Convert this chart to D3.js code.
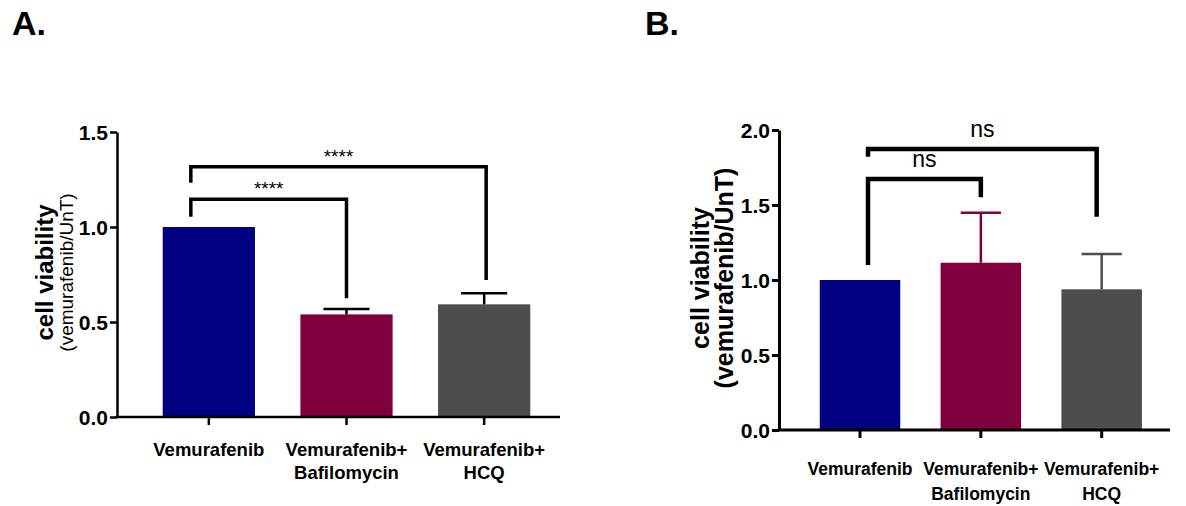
<!DOCTYPE html>
<html>
<head>
<meta charset="utf-8">
<script src="https://cdn.jsdelivr.net/npm/d3@7"></script>
<style>
  body { margin: 0; background: #fff; }
  text { font-family: "Liberation Sans", Arial, sans-serif; }
</style>
</head>
<body>
<div id="myDiv"></div>
<script>
// categories and labels
var categories = ["Vemurafenib", "Vemurafenib+Bafilomycin", "Vemurafenib+HCQ"];
var catLines = [["Vemurafenib"], ["Vemurafenib+", "Bafilomycin"], ["Vemurafenib+", "HCQ"]];
var barColors = ["#000080", "#7f003c", "#4d4d4d"];

// panel A values
var meanA = [1.0, 0.54, 0.593];
var errA = [0, 0.028, 0.058];
var ticksA = [0, 0.5, 1.0, 1.5];
// brackets: from bar a to bar b, bar height y, left end ya, right end yb
var sigA = [
  {a: 0, b: 1, y: 1.146, ya: 1.054, yb: 0.625, label: "****"},
  {a: 0, b: 2, y: 1.317, ya: 1.233, yb: 0.721, label: "****"}
];

// panel B values
var meanB = [1.0, 1.115, 0.938];
var errB = [0, 0.334, 0.235];
var ticksB = [0, 0.5, 1.0, 1.5, 2.0];
var sigB = [
  {a: 0, b: 1, y: 1.673, ya: 1.10, yb: 1.551, label: "ns"},
  {a: 0, b: 2, y: 1.873, ya: 1.822, yb: 1.422, label: "ns"}
];

var w = 1186;
var h = 506;

var svg = d3.select("#myDiv")
    .append("svg")
    .attr("width", w)
    .attr("height", h);

// panel letters
svg.append("text").attr("x", 12).attr("y", 35)
  .attr("font-size", 34).attr("font-weight", "bold").text("A.");
svg.append("text").attr("x", 645).attr("y", 35)
  .attr("font-size", 34).attr("font-weight", "bold").text("B.");

function drawPanel(p) {
  var x = d3.scaleBand()
    .domain(categories)
    .range(p.xRange)
    .paddingInner(p.pad)
    .paddingOuter(p.pad / 2);

  var y = d3.scaleLinear()
    .domain(p.yDomain)
    .range(p.yRange);

  var g = svg.append("g");
  var bw = x.bandwidth();

  // bars
  g.selectAll("rect.bar")
   .data(p.means)
   .enter()
   .append("rect")
   .attr("class", "bar")
   .attr("x", function(d, i) { return x(categories[i]); })
   .attr("y", function(d) { return y(d); })
   .attr("width", bw)
   .attr("height", function(d) { return y(0) - y(d); })
   .attr("fill", function(d, i) { return barColors[i]; });

  // error bars (upper only)
  p.means.forEach(function(m, i) {
    if (p.errs[i] <= 0) return;
    var cx = x(categories[i]) + bw / 2;
    var col = p.errColored ? barColors[i] : "#000";
    g.append("line")
      .attr("x1", cx).attr("x2", cx)
      .attr("y1", y(m)).attr("y2", y(m + p.errs[i]))
      .attr("stroke", col).attr("stroke-width", p.errWidth);
    g.append("line")
      .attr("x1", cx - bw / 4).attr("x2", cx + bw / 4)
      .attr("y1", y(m + p.errs[i])).attr("y2", y(m + p.errs[i]))
      .attr("stroke", col).attr("stroke-width", p.errWidth);
  });

  // y axis
  var yAxis = d3.axisLeft(y)
    .tickValues(p.ticks)
    .tickFormat(d3.format(".1f"))
    .tickSize(7)
    .tickSizeOuter(0)
    .tickPadding(2);
  var ya = g.append("g")
    .attr("transform", "translate(" + p.axisX + ",0)")
    .call(yAxis);
  ya.select(".domain").attr("stroke-width", p.axisWidth);
  ya.selectAll(".tick line").attr("stroke-width", p.axisWidth);
  ya.selectAll(".tick text")
    .attr("font-size", p.tickFont)
    .attr("font-weight", "bold")
    .attr("fill", "#000")
    .attr("dy", "0.34em")
    .style("font-family", "'Liberation Sans', Arial, sans-serif");

  // x axis
  var xAxis = d3.axisBottom(x).tickSize(8).tickFormat("");
  var xa = g.append("g")
    .attr("transform", "translate(0," + y(0) + ")")
    .call(xAxis);
  xa.select(".domain").remove();
  xa.selectAll(".tick line").attr("stroke-width", p.axisWidth);
  g.append("line")
    .attr("x1", p.axisX - p.axisWidth / 2).attr("x2", p.xAxisEnd)
    .attr("y1", y(0)).attr("y2", y(0))
    .attr("stroke", "#000").attr("stroke-width", p.axisWidth);

  // category labels
  catLines.forEach(function(lines, i) {
    var t = g.append("text")
      .attr("x", x(categories[i]) + bw / 2)
      .attr("y", y(0) + p.labelDrop)
      .attr("text-anchor", "middle")
      .attr("font-size", p.catFont)
      .attr("font-weight", "bold");
    lines.forEach(function(s, j) {
      t.append("tspan")
        .attr("x", x(categories[i]) + bw / 2)
        .attr("dy", j === 0 ? 0 : p.lineGap)
        .text(s);
    });
  });

  // y label
  var ly = (p.yRange[0] + p.yRange[1]) / 2 + p.titleDy;
  g.append("text")
    .attr("transform", "translate(" + p.titleX[0] + "," + ly + ") rotate(-90)")
    .attr("text-anchor", "middle")
    .attr("font-size", p.titleFont[0])
    .attr("font-weight", "bold")
    .text("cell viability");
  g.append("text")
    .attr("transform", "translate(" + p.titleX[1] + "," + ly + ") rotate(-90)")
    .attr("text-anchor", "middle")
    .attr("font-size", p.titleFont[1])
    .attr("font-weight", p.subBold ? "bold" : "normal")
    .text("(vemurafenib/UnT)");

  // significance brackets
  p.sig.forEach(function(s) {
    var xa0 = x(categories[s.a]) + bw / 2 + p.leftShift;
    var xb0 = x(categories[s.b]) + bw / 2 + (s.b === 2 ? p.rightShift : 0);
    g.append("path")
      .attr("d", "M" + xa0 + "," + y(s.ya) + "V" + y(s.y) + "H" + xb0 + "V" + y(s.yb))
      .attr("fill", "none")
      .attr("stroke", "#000")
      .attr("stroke-width", p.bracketWidth);
    g.append("text")
      .attr("x", (xa0 + xb0) / 2)
      .attr("y", y(s.y) - p.sigGap)
      .attr("text-anchor", "middle")
      .attr("font-size", p.sigFont)
      .text(s.label);
  });
}

drawPanel({
  means: meanA, errs: errA, ticks: ticksA, sig: sigA,
  xRange: [140, 553], pad: 0.33,
  yDomain: [0, 1.5], yRange: [417, 132],
  axisX: 117, xAxisEnd: 560, axisWidth: 2.5,
  tickFont: 21, catFont: 18.5, labelDrop: 39, lineGap: 23,
  titleX: [53, 73], titleFont: [24, 19], subBold: false, titleDy: -2,
  errColored: false, errWidth: 2.5,
  leftShift: -18, rightShift: 2, bracketWidth: 3.5,
  sigFont: 19, sigGap: 4
});

drawPanel({
  means: meanB, errs: errB, ticks: ticksB, sig: sigB,
  xRange: [799.6, 1162.1], pad: 0.334,
  yDomain: [0, 2.0], yRange: [430, 130],
  axisX: 779, xAxisEnd: 1170, axisWidth: 3,
  tickFont: 21, catFont: 17.5, labelDrop: 45, lineGap: 25,
  titleX: [709, 733], titleFont: [25, 25], subBold: true, titleDy: -2,
  errColored: true, errWidth: 2.5,
  leftShift: 8, rightShift: -5, bracketWidth: 4.5,
  sigFont: 23, sigGap: 12
});
</script>
</body>
</html>
